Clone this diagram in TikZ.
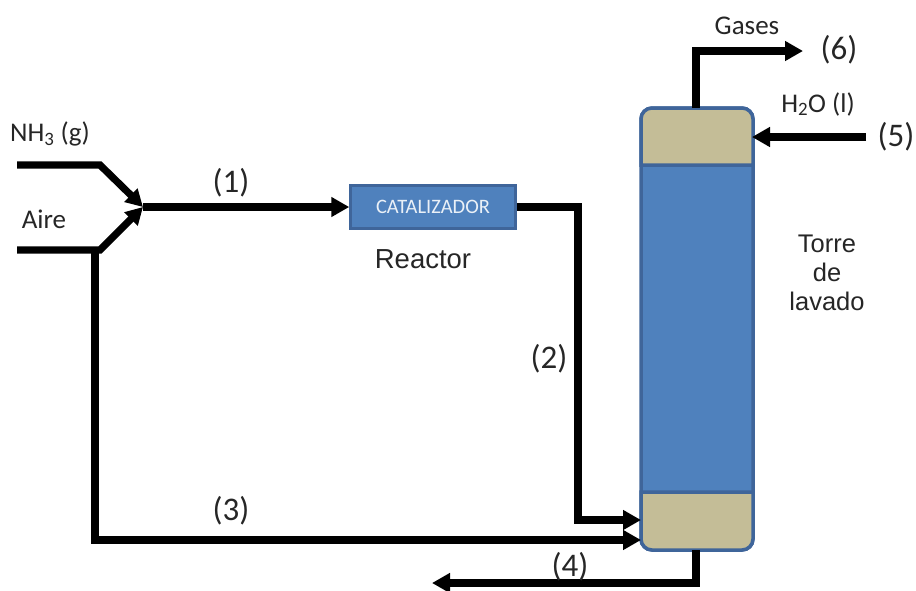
\documentclass[tikz,border=0pt]{standalone}
\usepackage{fontspec}
\setmainfont{Carlito}
\newfontfamily\arialf{Liberation Sans}
\usetikzlibrary{arrows.meta,calc}
\definecolor{towerblue}{HTML}{4F81BD}
\definecolor{edgeblue}{HTML}{3F659A}
\definecolor{khaki}{HTML}{C4BD97}
\definecolor{txt}{HTML}{262626}
\tikzset{
  x=1pt,y=-1pt,
  pipe/.style={draw=black,line width=7.2pt,line join=miter},
  flow/.style={pipe,-{Triangle[length=18pt,width=19pt]}},
  smallflow/.style={pipe,-{Triangle[length=17pt,width=18pt]}},
  lbl/.style={inner sep=0pt,text=txt,font=\fontsize{27}{30}\selectfont},
  numlbl/.style={inner sep=0pt,text=txt,font=\fontsize{33}{36}\selectfont},
  arlbl/.style={inner sep=0pt,text=txt,align=center},
  vessel/.style={draw=edgeblue,line width=3.5pt,rounded corners=11pt,fill=towerblue,minimum width=112pt,minimum height=442pt,inner sep=0pt},
  band/.style={draw=edgeblue,line width=3.5pt,fill=khaki,rounded corners=11pt},
  reactorbox/.style={draw=edgeblue,line width=2.5pt,fill=towerblue,minimum width=165pt,minimum height=43pt,inner sep=0pt,text=white!88!towerblue,font=\fontsize{20.5}{22}\selectfont}
}
\begin{document}
\begin{tikzpicture}
\useasboundingbox (0,0) rectangle (916,590);
% tower
\node[vessel] (tower) at (697,329) {};
\draw[band] (641,165) [sharp corners] -- (641,140) [rounded corners=11pt] -- (641,108) -- (753,108) [sharp corners] -- (753,165) -- cycle;
\draw[band] (641,492) [sharp corners] -- (641,520) [rounded corners=11pt] -- (641,550) -- (753,550) [sharp corners] -- (753,492) -- cycle;
% reactor
\node[reactorbox] (reactor) at (433,207) {CATALIZADOR};
% free ends
\coordinate (nhstart) at (17,165);
\coordinate (nhbend) at (100,165);
\coordinate (airstart) at (17,250);
\coordinate (airbend) at (100,250);
\coordinate (mix) at (143,207);
\coordinate (gasbend) at (696,51);
\coordinate (gasend) at (803,51);
\coordinate (waterstart) at (866,137);
\coordinate (waterend) at (752,137);
\coordinate (in2) at (641,520);
\coordinate (in3) at (641,540);
\coordinate (bot) at (696,550);
\coordinate (botbend) at (696,583);
\coordinate (botend) at (432,583);
\coordinate (top) at (696,108);
% connectors
\draw[smallflow] (nhstart) -- (nhbend) -- (mix);
\draw[smallflow] (airstart) -- (airbend) -- (mix);
\draw[flow] (mix) -- (reactor.west);
\draw[flow] (reactor.east) -- (578,207) -- (578,520) -- (in2);
\draw[flow] (95,250) -- (95,540) -- (in3);
\draw[flow] (bot) -- (botbend) -- (botend);
\draw[flow] (top) -- (gasbend) -- (gasend);
\draw[flow] (waterstart) -- (waterend);
% labels
\node[lbl] (lnh) at (50,134) {NH\textsubscript{3} (g)};
\node[lbl] (lair) at (44,219) {Aire};
\node[lbl] (lgas) at (747,26) {Gases};
\node[lbl] (lwater) at (818,104) {H\textsubscript{2}O (l)};
\node[numlbl] (n1) at (231,183) {(1)};
\node[numlbl] (n2) at (549,359) {(2)};
\node[numlbl] (n3) at (231,511) {(3)};
\node[numlbl] (n4) at (570,567) {(4)};
\node[numlbl] (n5) at (896,137) {(5)};
\node[numlbl] (n6) at (839,50) {(6)};
\node[arlbl,font=\arialf\fontsize{27.5}{30}\selectfont] (lreac) at (423,259) {Reactor};
\node[arlbl,font=\arialf\fontsize{25.5}{29}\selectfont] (ltorre) at (827,273) {Torre\\de\\lavado};
\end{tikzpicture}
\end{document}
